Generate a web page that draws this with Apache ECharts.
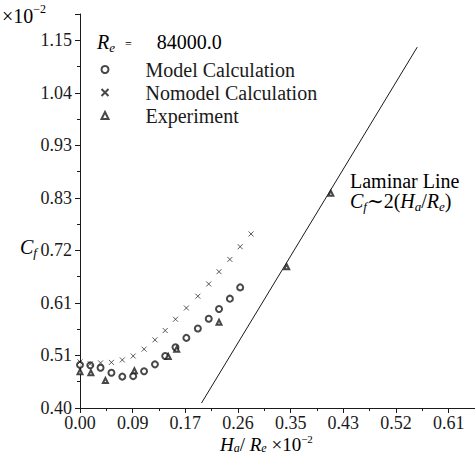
<!DOCTYPE html>
<html>
<head>
<meta charset="utf-8">
<script src="https://cdn.jsdelivr.net/npm/echarts@6/dist/echarts.min.js"></script>
<style>
  html, body { margin: 0; padding: 0; background: #fff; }
  #chart { width: 475px; height: 456px; }
</style>
</head>
<body>
<div id="chart"></div>
<script>
// tick labels as printed
var xTicks = ['0.00', '0.09', '0.17', '0.26', '0.35', '0.43', '0.52', '0.61'];
var yTicks = ['0.40', '0.51', '0.61', '0.72', '0.83', '0.93', '1.04', '1.15'];

// Ha/Re x 10^-2
var calcX = [0.000, 0.017, 0.034, 0.052, 0.070, 0.088, 0.106, 0.124, 0.141, 0.158,
  0.176, 0.195, 0.213, 0.230, 0.248, 0.265, 0.283];
// Cf x 10^-2
var modelY = [0.488, 0.487, 0.482, 0.472, 0.464, 0.465, 0.475, 0.489, 0.506, 0.524,
  0.543, 0.562, 0.582, 0.602, 0.623, 0.646];
var nomodelY = [0.494, 0.490, 0.492, 0.493, 0.498, 0.506, 0.520, 0.539, 0.558, 0.581,
  0.604, 0.628, 0.653, 0.678, 0.703, 0.729, 0.755];
var expX = [0.000, 0.018, 0.042, 0.090, 0.146, 0.160, 0.230, 0.342, 0.415];
var expY = [0.474, 0.472, 0.456, 0.476, 0.505, 0.520, 0.575, 0.688, 0.838];
var laminarX = [0.201, 0.558];
var laminarY = [0.410, 1.136];

var xStep = 0.61 / 7;
var yStep = 0.75 / 7;
var yMin = 0.40;

function pairs(xs, ys) {
  var out = [];
  for (var i = 0; i < ys.length; i++) {
    out.push([xs[i], ys[i]]);
  }
  return out;
}

var serif = '"Liberation Serif", "DejaVu Serif", serif';
var ink = '#1a1a1a';
// base glyphs sit at the top of the line, sub/sup shifted with padding
var rich = {
  n: { fontFamily: serif, fontSize: 20, color: ink, lineHeight: 16, verticalAlign: 'top', padding: [3, 0, 0, 0] },
  i: { fontFamily: serif, fontSize: 20, fontStyle: 'italic', color: ink, lineHeight: 16, verticalAlign: 'top', padding: [3, 0, 0, 0] },
  sub: { fontFamily: serif, fontSize: 13, fontStyle: 'italic', color: ink, lineHeight: 13, verticalAlign: 'top', padding: [12, 0, 0, 0] },
  sup: { fontFamily: serif, fontSize: 12, color: ink, lineHeight: 12, verticalAlign: 'top' },
  eq: { fontFamily: serif, fontSize: 12, color: ink, lineHeight: 12, verticalAlign: 'top', padding: [9, 0, 0, 0] },
  n0: { fontFamily: serif, fontSize: 20, color: ink, lineHeight: 16, verticalAlign: 'top' }
};
// smaller variant for the x title so it fits under the tick labels
var richX = {
  n: { fontFamily: serif, fontSize: 19, color: ink, lineHeight: 15, verticalAlign: 'top', padding: [2, 0, 0, 0] },
  i: { fontFamily: serif, fontSize: 19, fontStyle: 'italic', color: ink, lineHeight: 15, verticalAlign: 'top', padding: [2, 0, 0, 0] },
  sub: { fontFamily: serif, fontSize: 12, fontStyle: 'italic', color: ink, lineHeight: 12, verticalAlign: 'top', padding: [9, 0, 0, 0] },
  sup: { fontFamily: serif, fontSize: 11, color: ink, lineHeight: 11, verticalAlign: 'top' }
};

var chart = echarts.init(document.getElementById('chart'), null, { renderer: 'svg' });

var option = {
  backgroundColor: '#fff',
  animation: false,
  textStyle: { fontFamily: serif },
  grid: { left: 80, right: 0, top: 14, bottom: 48, outerBoundsMode: 'none', containLabel: false },
  xAxis: {
    type: 'value',
    min: 0,
    max: xStep * 7.5,
    interval: xStep,
    axisLine: { lineStyle: { color: ink, width: 1 } },
    axisTick: { length: 5, lineStyle: { color: ink } },
    minorTick: { show: true, splitNumber: 2, length: 3, lineStyle: { color: ink } },
    splitLine: { show: false },
    axisLabel: {
      margin: 6,
      fontFamily: serif,
      fontSize: 18,
      color: ink,
      showMaxLabel: false,
      formatter: function(v) {
        var i = Math.round(v / xStep);
        if (Math.abs(v - i * xStep) > 1e-6) return '';
        return xTicks[i] || '';
      }
    }
  },
  yAxis: {
    type: 'value',
    min: yMin,
    max: yMin + yStep * 7.5,
    interval: yStep,
    axisLine: { show: true, lineStyle: { color: ink, width: 1 } },
    axisTick: { show: true, length: 5, lineStyle: { color: ink } },
    minorTick: { show: true, splitNumber: 2, length: 3, lineStyle: { color: ink } },
    splitLine: { show: false },
    axisLabel: {
      margin: 8,
      fontFamily: serif,
      fontSize: 18,
      color: ink,
      showMaxLabel: false,
      formatter: function(v) {
        var i = Math.round((v - yMin) / yStep);
        if (Math.abs(v - (yMin + i * yStep)) > 1e-6) return '';
        return yTicks[i] || '';
      }
    }
  },
  legend: {
    orient: 'vertical',
    left: 99,
    top: 58,
    padding: 0,
    itemWidth: 7,
    itemHeight: 7,
    itemGap: 0,
    textStyle: { fontFamily: serif, fontSize: 20, color: ink, lineHeight: 23, padding: [0, 0, 0, 32] },
    data: [
      { name: 'Model Calculation' },
      { name: 'Nomodel Calculation' },
      { name: 'Experiment' }
    ]
  },
  graphic: [
    {
      type: 'text', left: 2, top: 3,
      style: { text: '{n|×10}{sup|−2}', rich: rich }
    },
    {
      type: 'text', left: 97, top: 29,
      style: { text: '{i|R}{sub|e}{n|  }{eq|=}{n|     84000.0}', rich: rich }
    },
    {
      type: 'text', left: 20, top: 234,
      style: { text: '{i|C}{sub|f}', rich: rich }
    },
    {
      type: 'text', left: 220, top: 433,
      style: { text: '{i|H}{sub|a}{n|/ }{i|R}{sub|e}{n| ×10}{sup|−2}', rich: richX }
    },
    {
      type: 'text', left: 350, top: 171,
      style: { text: '{n0|Laminar Line}', rich: rich }
    },
    {
      type: 'text', left: 350, top: 188,
      style: { text: '{i|C}{sub|f}{n|∼2(}{i|H}{sub|a}{n|/}{i|R}{sub|e}{n|)}', rich: rich }
    }
  ],
  series: [
    {
      name: 'Model Calculation',
      type: 'scatter',
      symbol: 'emptyCircle',
      symbolSize: 6,
      itemStyle: { color: ink, borderColor: ink, borderWidth: 0.9 },
      data: pairs(calcX, modelY)
    },
    {
      name: 'Nomodel Calculation',
      type: 'scatter',
      symbol: 'path://M0,0L10,10M10,0L0,10',
      symbolSize: 5,
      itemStyle: { color: 'none', borderColor: ink, borderWidth: 0.9 },
      data: pairs(calcX, nomodelY)
    },
    {
      name: 'Experiment',
      type: 'scatter',
      symbol: 'emptyTriangle',
      symbolSize: 5,
      itemStyle: { color: ink, borderColor: ink, borderWidth: 0.9 },
      data: pairs(expX, expY)
    },
    {
      name: 'Laminar',
      type: 'line',
      showSymbol: false,
      lineStyle: { color: ink, width: 1 },
      data: pairs(laminarX, laminarY)
    }
  ]
};

chart.setOption(option);
</script>
</body>
</html>
